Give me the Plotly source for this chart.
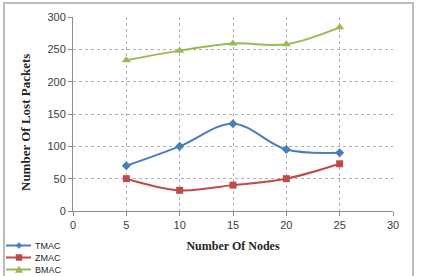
import plotly.graph_objects as go

nodes = [5, 10, 15, 20, 25]
tmac = [70, 100, 135, 95, 90]
zmac = [50, 32, 40, 50, 73]
bmac = [233, 248, 259, 258, 284]
series_names = ["TMAC", "ZMAC", "BMAC"]
colors = ["#4A7EBB", "#BE4B48", "#98B954"]
symbols = ["diamond", "square", "triangle-up"]

fig = go.Figure()
for name, vals, col, sym in zip(series_names, [tmac, zmac, bmac], colors, symbols):
    fig.add_trace(go.Scatter(x=nodes, y=vals, name=name, mode="lines+markers",
                             line=dict(color=col, width=2, shape="spline"),
                             marker=dict(symbol=sym, size=8 if sym == "triangle-up" else 7, color=col),
                             showlegend=False))

tickfont = dict(family="Liberation Sans, Arial", size=11, color="#404040")
titlefont = dict(family="Liberation Serif, Times New Roman", size=12, color="#262626")

L, R, T, B, W, H = 73, 28, 17, 65, 421, 276
PW, PH = W - L - R, H - T - B


def px(x):
    return (x - L) / PW


def py(y):
    return (H - B - y) / PH


fig.update_xaxes(range=[0, 30], dtick=5, tickfont=tickfont,
                 showgrid=True, gridcolor="#b0b0b0", griddash="dot", gridwidth=1,
                 showline=True, linecolor="#8c8c8c", linewidth=1,
                 ticks="outside", ticklen=4, tickcolor="#8c8c8c",
                 zeroline=False,
                 title=dict(text="<b>Number Of Nodes</b>", font=titlefont, standoff=11))
fig.update_yaxes(range=[0, 300], dtick=50, tickfont=tickfont,
                 showgrid=True, gridcolor="#b0b0b0", griddash="dot", gridwidth=1,
                 showline=True, linecolor="#8c8c8c", linewidth=1,
                 ticks="outside", ticklen=4, tickcolor="#8c8c8c",
                 zeroline=False)

# y axis title as annotation
fig.add_annotation(xref="paper", yref="paper", x=px(25), y=py(123), text="<b>Number Of Lost Packets</b>",
                   textangle=-90, showarrow=False, font=dict(family="Liberation Serif, Times New Roman",
                                                             size=13, color="#262626"),
                   xanchor="center", yanchor="middle")

# outer border
fig.add_shape(type="rect", xref="paper", yref="paper",
              x0=px(4), x1=px(413), y0=py(279), y1=py(3),
              line=dict(color="#a6a6a6", width=1.5), fillcolor="rgba(0,0,0,0)", layer="below")

# manual legend
rows = [245.5, 257.5, 269.5]
for name, col, sym, ry in zip(series_names, colors, symbols, rows):
    fig.add_shape(type="line", xref="paper", yref="paper",
                  x0=px(6), x1=px(31), y0=py(ry), y1=py(ry), line=dict(color=col, width=2))
    cx, cy = 19, ry
    if sym == "diamond":
        path = f"M {px(cx-3)},{py(cy)} L {px(cx)},{py(cy-3)} L {px(cx+3)},{py(cy)} L {px(cx)},{py(cy+3)} Z"
    elif sym == "square":
        path = f"M {px(cx-3)},{py(cy-3)} L {px(cx+3)},{py(cy-3)} L {px(cx+3)},{py(cy+3)} L {px(cx-3)},{py(cy+3)} Z"
    else:
        path = f"M {px(cx-3.5)},{py(cy+3)} L {px(cx+3.5)},{py(cy+3)} L {px(cx)},{py(cy-3.5)} Z"
    fig.add_shape(type="path", xref="paper", yref="paper", path=path,
                  fillcolor=col, line=dict(color=col, width=0.5))
    fig.add_annotation(xref="paper", yref="paper", x=px(33), y=py(ry), text=name, showarrow=False,
                       xanchor="left", yanchor="middle",
                       font=dict(family="Liberation Sans, Arial", size=9, color="#262626"))

fig.update_layout(
    width=W, height=H,
    margin=dict(l=L, r=R, t=T, b=B),
    paper_bgcolor="white", plot_bgcolor="white",
    showlegend=False,
)

fig.write_html("out.html")
